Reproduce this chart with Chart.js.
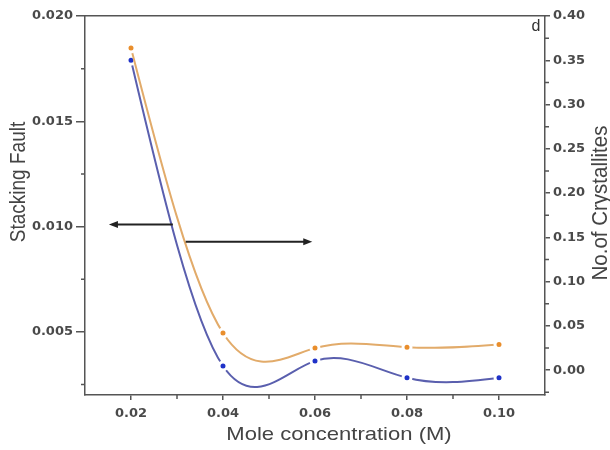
<!DOCTYPE html>
<html>
<head>
<meta charset="utf-8">
<script src="https://cdn.jsdelivr.net/npm/chart.js@4.4.1/dist/chart.umd.min.js"></script>
<style>
  html, body { margin: 0; padding: 0; background: #ffffff; }
  canvas { display: block; }
</style>
</head>
<body>
<canvas id="c" width="610" height="450"></canvas>
<script>
// ---- data ----
const concentrations = [0.02, 0.04, 0.06, 0.08, 0.10];
const stackingFault = [0.0179, 0.00338, 0.00362, 0.00282, 0.00282];
const crystallites = [0.364, 0.042, 0.025, 0.026, 0.029];

// ---- tick labels ----
const xTickValues = [0.02, 0.04, 0.06, 0.08, 0.10];
const xMinorValues = [0.03, 0.05, 0.07, 0.09];
const leftTickValues = [0.005, 0.010, 0.015, 0.020];
const leftMinorValues = [0.0025, 0.0075, 0.0125, 0.0175];
const rightTickValues = [0.00, 0.05, 0.10, 0.15, 0.20, 0.25, 0.30, 0.35, 0.40];
const rightMinorValues = [-0.025, 0.025, 0.075, 0.125, 0.175, 0.225, 0.275, 0.325, 0.375];

// ---- text ----
const xTitle = 'Mole concentration (M)';
const leftTitle = 'Stacking Fault';
const rightTitle = 'No.of Crystallites';
const panelLabel = 'd';

// ---- arrows (data units) ----
const arrowLeft = { x0: 0.0291, x1: 0.0152, y: 0.0101, axis: 'y' };
const arrowRight = { x0: 0.0319, x1: 0.0594, y: 0.145, axis: 'y1' };

const AXIS_COLOR = '#555555';
const TICK_FONT = { family: 'DejaVu Sans, sans-serif', size: 13, weight: 'bold' };
const TICK_COLOR = '#4a4a4a';
const TITLE_FONT = 'Liberation Sans, Arial, sans-serif';

// natural cubic spline through the points Chart.js placed (pixel space)
const naturalSpline = {
  id: 'naturalSpline',
  beforeDatasetDraw(chart, args) {
    const line = args.meta.dataset;
    const pts = args.meta.data;
    if (!line || pts.length < 3) return;
    line.updateControlPoints(chart.chartArea, 'x');
    const n = pts.length;
    const xs = pts.map(p => p.x), ys = pts.map(p => p.y);
    const h = [];
    for (let i = 0; i < n - 1; i++) h.push(xs[i + 1] - xs[i]);
    const M = new Array(n).fill(0);
    const m = n - 2;
    const a = [], b = [], c = [], d = [];
    for (let i = 1; i <= m; i++) {
      a.push(h[i - 1]);
      b.push(2 * (h[i - 1] + h[i]));
      c.push(h[i]);
      d.push(6 * ((ys[i + 1] - ys[i]) / h[i] - (ys[i] - ys[i - 1]) / h[i - 1]));
    }
    for (let i = 1; i < m; i++) {
      const w = a[i] / b[i - 1];
      b[i] -= w * c[i - 1];
      d[i] -= w * d[i - 1];
    }
    const sol = new Array(m);
    sol[m - 1] = d[m - 1] / b[m - 1];
    for (let i = m - 2; i >= 0; i--) sol[i] = (d[i] - c[i] * sol[i + 1]) / b[i];
    for (let i = 0; i < m; i++) M[i + 1] = sol[i];
    const D = [];
    for (let i = 0; i < n; i++) {
      if (i < n - 1) D.push((ys[i + 1] - ys[i]) / h[i] - h[i] * (2 * M[i] + M[i + 1]) / 6);
      else D.push((ys[i] - ys[i - 1]) / h[i - 1] + h[i - 1] * (M[i - 1] + 2 * M[i]) / 6);
    }
    for (let i = 0; i < n; i++) {
      const p = pts[i];
      if (i < n - 1) { p.cp2x = xs[i] + h[i] / 3; p.cp2y = ys[i] + D[i] * h[i] / 3; }
      if (i > 0) { p.cp1x = xs[i] - h[i - 1] / 3; p.cp1y = ys[i] - D[i] * h[i - 1] / 3; }
    }
  }
};

const minorTicks = {
  id: 'minorTicks',
  afterDraw(chart) {
    const ctx = chart.ctx, ar = chart.chartArea;
    ctx.save();
    ctx.strokeStyle = AXIS_COLOR;
    ctx.lineWidth = 1.5;
    ctx.beginPath();
    xMinorValues.forEach(v => {
      const px = chart.scales.x.getPixelForValue(v);
      ctx.moveTo(px, ar.bottom); ctx.lineTo(px, ar.bottom + 4);
    });
    leftMinorValues.forEach(v => {
      const py = chart.scales.y.getPixelForValue(v);
      ctx.moveTo(ar.left - 4, py); ctx.lineTo(ar.left, py);
    });
    rightMinorValues.forEach(v => {
      const py = chart.scales.y1.getPixelForValue(v);
      ctx.moveTo(ar.right, py); ctx.lineTo(ar.right + 4, py);
    });
    ctx.stroke();
    ctx.restore();
  }
};

function drawArrow(chart, arw) {
  const ctx = chart.ctx;
  const x0 = chart.scales.x.getPixelForValue(arw.x0);
  const x1 = chart.scales.x.getPixelForValue(arw.x1);
  const y = chart.scales[arw.axis].getPixelForValue(arw.y);
  const dir = Math.sign(x1 - x0);
  ctx.save();
  ctx.strokeStyle = '#222222';
  ctx.fillStyle = '#222222';
  ctx.lineWidth = 2;
  ctx.beginPath();
  ctx.moveTo(x0, y); ctx.lineTo(x1 - dir * 6, y);
  ctx.stroke();
  ctx.beginPath();
  ctx.moveTo(x1, y);
  ctx.lineTo(x1 - dir * 9, y - 3.5);
  ctx.lineTo(x1 - dir * 9, y + 3.5);
  ctx.closePath();
  ctx.fill();
  ctx.restore();
}

const decorations = {
  id: 'decorations',
  afterDraw(chart) {
    const ctx = chart.ctx;
    drawArrow(chart, arrowLeft);
    drawArrow(chart, arrowRight);
    ctx.save();
    ctx.fillStyle = '#444444';
    ctx.textAlign = 'center';
    ctx.textBaseline = 'middle';
    ctx.font = '19px ' + TITLE_FONT;
    ctx.save();
    ctx.translate(339, 435); ctx.scale(1.16, 1);
    ctx.fillText(xTitle, 0, 0);
    ctx.restore();
    ctx.save();
    ctx.translate(19, 182); ctx.scale(1.15, 1); ctx.rotate(-Math.PI / 2);
    ctx.fillText(leftTitle, 0, 0);
    ctx.restore();
    ctx.font = '20.5px ' + TITLE_FONT;
    ctx.save();
    ctx.translate(601, 203); ctx.scale(1.1, 1); ctx.rotate(-Math.PI / 2);
    ctx.fillText(rightTitle, 0, 0);
    ctx.restore();
    ctx.font = '16px ' + TITLE_FONT;
    ctx.fillStyle = '#333333';
    ctx.fillText(panelLabel, 536, 27);
    ctx.restore();
  }
};

new Chart(document.getElementById('c'), {
  type: 'line',
  data: {
    datasets: [
      {
        label: 'No. of Crystallites',
        data: concentrations.map((x, i) => ({ x, y: crystallites[i] })),
        yAxisID: 'y1',
        borderColor: '#e2ab6a',
        borderWidth: 2,
        pointBackgroundColor: '#e98e2c',
        pointBorderColor: '#ffffff',
        pointBorderWidth: 3,
        pointRadius: 4,
        tension: 0.4,
        fill: false
      },
      {
        label: 'Stacking Fault',
        data: concentrations.map((x, i) => ({ x, y: stackingFault[i] })),
        yAxisID: 'y',
        borderColor: '#5a5fae',
        borderWidth: 2,
        pointBackgroundColor: '#1f32c8',
        pointBorderColor: '#ffffff',
        pointBorderWidth: 3,
        pointRadius: 4,
        tension: 0.4,
        fill: false
      }
    ]
  },
  options: {
    responsive: false,
    animation: false,
    devicePixelRatio: 1,
    layout: { padding: 0 },
    plugins: { legend: { display: false }, tooltip: { enabled: false } },
    elements: { line: { capBezierPoints: false } },
    scales: {
      x: {
        type: 'linear', position: 'bottom', min: 0.01, max: 0.11,
        afterBuildTicks: s => { s.ticks = xTickValues.map(v => ({ value: v })); },
        afterFit: s => { s.height = 55; },
        ticks: { font: TICK_FONT, color: TICK_COLOR, padding: 6, callback: v => Number(v).toFixed(2), maxRotation: 0 },
        grid: { drawOnChartArea: false, tickLength: 5, color: AXIS_COLOR, lineWidth: 1.5 },
        border: { color: AXIS_COLOR, width: 1.5 }
      },
      x2: {
        type: 'linear', position: 'top', min: 0.01, max: 0.11,
        afterFit: s => { s.height = 16; },
        ticks: { display: false },
        grid: { drawOnChartArea: false, drawTicks: false },
        border: { color: AXIS_COLOR, width: 1.5 }
      },
      y: {
        type: 'linear', position: 'left', min: 0.002, max: 0.020,
        afterBuildTicks: s => { s.ticks = leftTickValues.map(v => ({ value: v })); },
        afterFit: s => { s.width = 85; },
        ticks: { font: TICK_FONT, color: TICK_COLOR, padding: 3, callback: v => Number(v).toFixed(3) },
        grid: { drawOnChartArea: false, tickLength: 9, color: AXIS_COLOR, lineWidth: 1.5 },
        border: { color: AXIS_COLOR, width: 1.5 }
      },
      y1: {
        type: 'linear', position: 'right', min: -0.028, max: 0.40,
        afterBuildTicks: s => { s.ticks = rightTickValues.map(v => ({ value: v })); },
        afterFit: s => { s.width = 65; },
        ticks: { font: TICK_FONT, color: TICK_COLOR, padding: 3, callback: v => Number(v).toFixed(2) },
        grid: { drawOnChartArea: false, tickLength: 5, color: AXIS_COLOR, lineWidth: 1.5 },
        border: { color: AXIS_COLOR, width: 1.5 }
      }
    }
  },
  plugins: [naturalSpline, minorTicks, decorations]
});
</script>
</body>
</html>
